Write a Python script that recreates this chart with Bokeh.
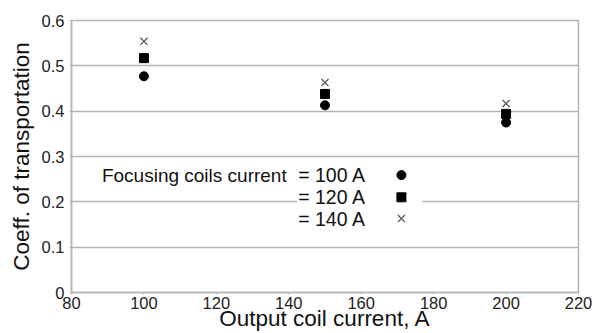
from bokeh.plotting import figure
from bokeh.embed import file_html
from bokeh.resources import INLINE
from bokeh.models import Label, FixedTicker, Range1d

# Data
output_current = [100, 150, 200]
coef_100 = [0.477, 0.413, 0.375]
coef_120 = [0.517, 0.438, 0.394]
coef_140 = [0.554, 0.463, 0.417]
legend_title = "Focusing coils current"
legend_labels = ["= 100 A", "= 120 A", "= 140 A"]
x_ticks = [80, 100, 120, 140, 160, 180, 200, 220]
y_ticks = [0, 0.1, 0.2, 0.3, 0.4, 0.5, 0.6]

FONT = "Liberation Sans"
GRID = "#b4b4b4"

p = figure(width=592, height=333, output_backend="svg", toolbar_location=None,
           x_range=Range1d(80, 220), y_range=Range1d(0, 0.6),
           min_border_left=71, min_border_right=14, min_border_top=20, min_border_bottom=41)
p.background_fill_color = "white"
p.border_fill_color = "white"
p.outline_line_color = GRID
p.outline_line_width = 1.5

p.xgrid.visible = False
p.ygrid.grid_line_color = GRID
p.ygrid.grid_line_width = 1.5

p.xaxis.ticker = FixedTicker(ticks=x_ticks)
p.yaxis.ticker = FixedTicker(ticks=y_ticks)
p.yaxis.major_label_overrides = {0: "0"}
for ax in (p.xaxis, p.yaxis):
    ax.axis_line_color = GRID
    ax.axis_line_width = 1.5
    ax.major_tick_line_color = GRID
    ax.major_tick_out = 2
    ax.major_tick_in = 0
    ax.minor_tick_line_color = None
    ax.major_label_text_font = FONT
    ax.major_label_text_font_size = "16.5px"
    ax.major_label_text_color = "#222222"
    ax.axis_label_text_font = FONT
    ax.axis_label_text_font_size = "22.5px"
    ax.axis_label_text_font_style = "normal"
    ax.axis_label_text_color = "#111111"
p.xaxis.axis_label = "Output coil current, A"
p.yaxis.axis_label = "Coeff. of transportation"
p.xaxis.major_label_standoff = 2
p.xaxis.axis_label_standoff = -6
p.yaxis.major_label_standoff = 5
p.yaxis.axis_label_standoff = 5

# White legend box hiding grid lines
p.quad(left=[142.3], right=[176.9], bottom=[0.14], top=[0.285],
       fill_color="white", line_color=None)

p.scatter(output_current, coef_100, marker="circle", size=9, color="black")
p.scatter(output_current, coef_120, marker="square", size=9, color="black")
p.scatter(output_current, coef_140, marker="x", size=10, line_color="#555555", line_width=1.3)

# Legend
leg_y = [0.259, 0.210, 0.163]
p.add_layout(Label(x=88.4, y=leg_y[0], text=legend_title, text_font=FONT,
                   text_font_size="19px", text_baseline="middle", text_color="#111111"))
for yy, lab in zip(leg_y, legend_labels):
    p.add_layout(Label(x=142.6, y=yy, text=lab, text_font=FONT,
                       text_font_size="19.5px", text_baseline="middle", text_color="#111111"))
p.scatter([171.1], [leg_y[0]], marker="circle", size=9, color="black")
p.scatter([171.1], [leg_y[1]], marker="square", size=9, color="black")
p.scatter([171.1], [leg_y[2]], marker="x", size=10, line_color="#555555", line_width=1.3)

open("out.html", "w").write(file_html(p, INLINE))
